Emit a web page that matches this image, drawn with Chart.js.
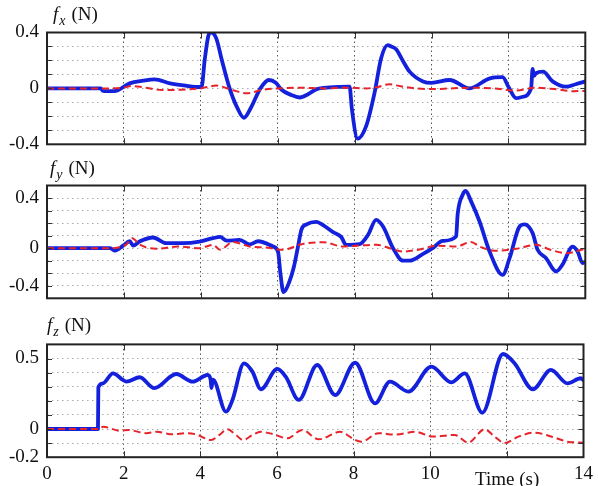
<!DOCTYPE html>
<html><head><meta charset="utf-8">
<script src="https://cdn.jsdelivr.net/npm/chart.js@4.4.0/dist/chart.umd.min.js"></script>
<style>
html,body{margin:0;padding:0;background:#fff;}
#wrap{position:relative;width:598px;height:486px;overflow:hidden;background:#fff;}
canvas{position:absolute;left:0;}
.lbl{position:absolute;font-family:'Liberation Serif','Times New Roman',serif;color:#111;white-space:nowrap;}
.ttl{font-size:19px;line-height:20px;}
.ttl sub{font-size:14px;vertical-align:baseline;position:relative;top:5px;margin-left:1px;}
.ttl .u{margin-left:6px;}
</style></head>
<body><div id="wrap">
<canvas id="c1" width="598" height="170" style="top:0px"></canvas>
<canvas id="c2" width="598" height="175" style="top:150px"></canvas>
<canvas id="c3" width="598" height="181" style="top:305px"></canvas>
<div class="lbl ttl" style="left:53px;top:4px"><i>f</i><sub><i>x</i></sub><span class="u">(N)</span></div>
<div class="lbl ttl" style="left:50px;top:158px"><i>f</i><sub><i>y</i></sub><span class="u">(N)</span></div>
<div class="lbl ttl" style="left:47px;top:315px"><i>f</i><sub><i>z</i></sub><span class="u">(N)</span></div>
<div class="lbl" style="left:475px;top:469px;font-size:19px;line-height:20px;">Time (s)</div>
</div>
<script>
// ---- time axis ticks ----
const timeTicks = [0, 2, 4, 6, 8, 10, 12, 14];

// ---- f_x (N) ----
const fxMeasT = [0,1.4,1.45,1.75,2.15,2.5,2.8,3.2,3.6,3.97,4.02,4.1,4.2,4.27,4.4,4.55,4.75,4.95,5.12,5.3,5.55,5.77,5.95,6.1,6.35,6.57,6.8,7.0,7.35,7.87,7.93,8.08,8.3,8.52,8.69,8.86,8.95,9.08,9.25,9.43,9.78,10.0,10.47,10.99,11.5,11.85,12.0,12.2,12.37,12.59,12.63,12.67,12.72,12.9,13.15,13.5,13.75,14.0];
const fxMeasV = [0,0,-0.017,-0.02,0.036,0.055,0.065,0.036,0.02,0.01,0.01,0.2,0.38,0.4,0.36,0.2,0,-0.14,-0.21,-0.14,0,0.06,0.04,-0.01,-0.047,-0.065,-0.04,-0.007,0.007,0.012,-0.15,-0.36,-0.27,-0.03,0.216,0.31,0.3,0.28,0.2,0.12,0.05,0.04,0.06,0,0.07,0.08,0.012,-0.07,-0.06,0,0.14,0.09,0.11,0.12,0.05,0.012,0.03,0.05];
const fxRefT = [0,1.5,2.0,2.2,2.5,3.0,3.4,4.0,4.4,4.8,5.2,5.6,6.0,6.6,7.2,7.8,8.3,8.6,8.9,9.2,9.6,10.0,10.5,11.0,11.6,12.2,12.7,13.2,13.7,14.0];
const fxRefV = [0,0,0.005,0.017,0.008,-0.012,-0.01,0.0,0.02,-0.01,-0.035,-0.01,0.0,0.005,0.0,0.005,0.0,0.01,0.03,0.015,0.0,-0.005,0.0,0.005,0.0,-0.015,0.005,-0.005,-0.02,-0.018];

// ---- f_y (N) ----
const fyMeasT = [0,1.64,1.77,1.98,2.15,2.24,2.42,2.76,3.1,3.54,3.97,4.32,4.5,4.67,5.01,5.27,5.49,5.88,6.01,6.07,6.15,6.3,6.42,6.52,6.62,6.75,7.0,7.2,7.43,7.65,7.78,8.13,8.35,8.56,8.74,9.0,9.26,9.43,9.77,10.03,10.29,10.64,10.68,10.81,10.89,11.03,11.25,11.51,11.85,12.03,12.29,12.42,12.63,12.76,12.98,13.24,13.41,13.67,13.8,13.93,14.0];
const fyMeasV = [0,0,-0.02,0.02,0.055,0.02,0.055,0.085,0.04,0.04,0.053,0.08,0.09,0.06,0.066,0.03,0.055,0.013,-0.03,-0.2,-0.35,-0.27,-0.15,0.0,0.15,0.19,0.21,0.18,0.13,0.09,0.026,0.032,0.106,0.226,0.173,0.0,-0.1,-0.1,-0.048,0.0,0.058,0.093,0.27,0.426,0.457,0.373,0.213,-0.027,-0.213,-0.08,0.173,0.19,0.12,-0.013,-0.08,-0.186,-0.13,0.013,-0.027,-0.12,-0.11];
const fyRefT = [0,1.7,2.05,2.22,2.4,2.84,3.4,3.97,4.32,4.5,4.84,5.27,5.7,6.14,6.57,6.75,7.18,7.7,8.05,8.57,8.91,9.26,9.77,10.12,10.64,11.03,11.25,11.68,12.2,12.72,13.07,13.5,14.0];
const fyRefV = [0,0,0.027,0.08,0.03,-0.005,0.013,0.0,0.027,-0.013,0.05,0.013,0.005,-0.013,0.027,0.04,0.047,0.013,0.02,0.027,0.0,-0.027,-0.005,0.02,0.013,0.05,0.013,-0.021,-0.005,0.027,-0.01,-0.04,-0.005];

// ---- f_z (N) ----
const fzMeasT = [0,1.33,1.34,1.46,1.72,1.98,2.07,2.42,2.8,3.37,3.8,4.19,4.27,4.29,4.33,4.67,4.84,5.14,5.36,5.58,6.01,6.23,6.57,7.05,7.52,8.04,8.56,8.95,9.43,10.03,10.55,10.9,11.36,11.9,12.2,12.68,13.15,13.58,13.93,14.0];
const fzMeasV = [0,0,0.296,0.324,0.395,0.348,0.336,0.367,0.29,0.39,0.336,0.383,0.35,0.29,0.35,0.123,0.206,0.466,0.407,0.282,0.426,0.371,0.206,0.454,0.241,0.47,0.182,0.336,0.265,0.442,0.331,0.395,0.116,0.532,0.466,0.282,0.419,0.324,0.36,0.345];
const fzRefT = [0,1.38,1.46,1.9,2.13,2.59,2.85,3.28,3.63,3.89,4.28,4.5,4.71,4.92,5.12,5.36,5.58,5.88,6.27,6.66,7.09,7.65,8.04,8.2,8.65,9.09,9.6,10.08,10.64,10.99,11.42,11.68,11.94,12.3,12.72,13.23,13.58,14.0];
const fzRefV = [0,0,0.016,-0.012,-0.007,-0.03,-0.02,-0.038,-0.03,-0.038,-0.078,-0.042,-0.002,-0.04,-0.078,-0.042,-0.02,-0.035,-0.066,-0.007,-0.073,-0.02,-0.078,-0.09,-0.03,-0.04,-0.02,-0.054,-0.042,-0.097,-0.002,-0.054,-0.1,-0.054,-0.026,-0.06,-0.09,-0.097];

// ---- y tick labels (tenths -> text) ----
const fxYLabels = {4:'0.4', 0:'0', '-4':'-0.4'};
const fyYLabels = {4:'0.4', 0:'0', '-3':'-0.4'};
const fzYLabels = {5:'0.5', 0:'0', '-2':'-0.2'};

const SERIF = "'Liberation Serif', 'Times New Roman', serif";
const BLUE = '#1421dc';
const RED = '#e5232b';

Chart.defaults.font.family = SERIF;
Chart.defaults.font.size = 19;
Chart.defaults.color = '#111';

function pts(t, v){ return t.map((x,i)=>({x:x, y:v[i]})); }

const framePlugin = {
  id:'frame',
  afterDraw(chart){
    const {ctx, chartArea:a, scales} = chart;
    const y = scales.y, x = scales.x;
    ctx.save();
    ctx.strokeStyle = '#333';
    ctx.lineWidth = 1;
    ctx.beginPath();
    const n = Math.round((y.max - y.min)*10);
    for(let k=1;k<n;k++){
      const py = Math.round(y.getPixelForValue(y.min + k*0.1)) + 0.5;
      ctx.moveTo(a.left, py); ctx.lineTo(a.left+5, py);
      ctx.moveTo(a.right-5, py); ctx.lineTo(a.right, py);
    }
    for(let t=2;t<14;t+=2){
      const px = Math.round(x.getPixelForValue(t)) + 0.5;
      ctx.moveTo(px, a.bottom); ctx.lineTo(px, a.bottom-6);
      ctx.moveTo(px, a.top); ctx.lineTo(px, a.top+6);
    }
    ctx.stroke();
    ctx.strokeStyle = '#222';
    ctx.lineWidth = 2;
    ctx.strokeRect(a.left, a.top, a.right-a.left, a.bottom-a.top);
    ctx.restore();
  }
};

function makeChart(id, measT, measV, refT, refV, yMin, yMax, yLabels, showX, pad){
  new Chart(document.getElementById(id), {
    type:'line',
    data:{datasets:[
      {data:pts(refT, refV), borderColor:RED, borderWidth:2, borderDash:[7,4], pointRadius:0, fill:false, cubicInterpolationMode:'monotone'},
      {data:pts(measT, measV), borderColor:BLUE, borderWidth:3.8, pointRadius:0, fill:false, cubicInterpolationMode:'monotone', borderJoinStyle:'round', borderCapStyle:'round'}
    ]},
    options:{
      responsive:false, animation:false, devicePixelRatio:1,
      layout:{padding:pad},
      plugins:{legend:{display:false}, tooltip:{enabled:false}},
      scales:{
        x:{type:'linear', min:0, max:14,
          afterBuildTicks(s){ s.ticks = timeTicks.map(v=>({value:v})); },
          ticks:{display:showX, autoSkip:false, maxRotation:0, padding:5, color:'#111',
            font:{family:SERIF, size:19},
            callback:(v)=> v===12 ? '' : String(v)},
          grid:{color:'#555', lineWidth:1, drawTicks:false, borderDash:[1.5,3]},
          border:{display:false, dash:[1.5,3]},
          afterFit(s){ s.height = showX ? 24 : 0; }
        },
        y:{min:yMin, max:yMax,
          ticks:{stepSize:0.1, autoSkip:false, padding:8, color:'#111',
            font:{family:SERIF, size:19},
            callback:(v)=>{ const k = Math.round(v*10); return (k in yLabels) ? yLabels[k] : ''; }},
          grid:{color:'#aaa', lineWidth:1, drawTicks:false, borderDash:[1.5,3.5]},
          border:{display:false, dash:[1.5,3.5]},
          afterFit(s){ s.width = 47; }
        }
      }
    },
    plugins:[framePlugin]
  });
}

function drawAll(){
  makeChart('c1', fxMeasT, fxMeasV, fxRefT, fxRefV, -0.4, 0.4, fxYLabels, false, {left:0, right:12.7, top:32.5, bottom:25.7});
  makeChart('c2', fyMeasT, fyMeasV, fyRefT, fyRefV, -0.4, 0.5, fyYLabels, false, {left:0, right:12.7, top:35.5, bottom:26.7});
  makeChart('c3', fzMeasT, fzMeasV, fzRefT, fzRefV, -0.2, 0.6, fzYLabels, true, {left:0, right:12.7, top:39.4, bottom:4.8});
}
if (document.fonts && document.fonts.load) {
  document.fonts.load("19px 'Liberation Serif'").then(drawAll, drawAll);
} else { drawAll(); }
</script>
</body></html>
